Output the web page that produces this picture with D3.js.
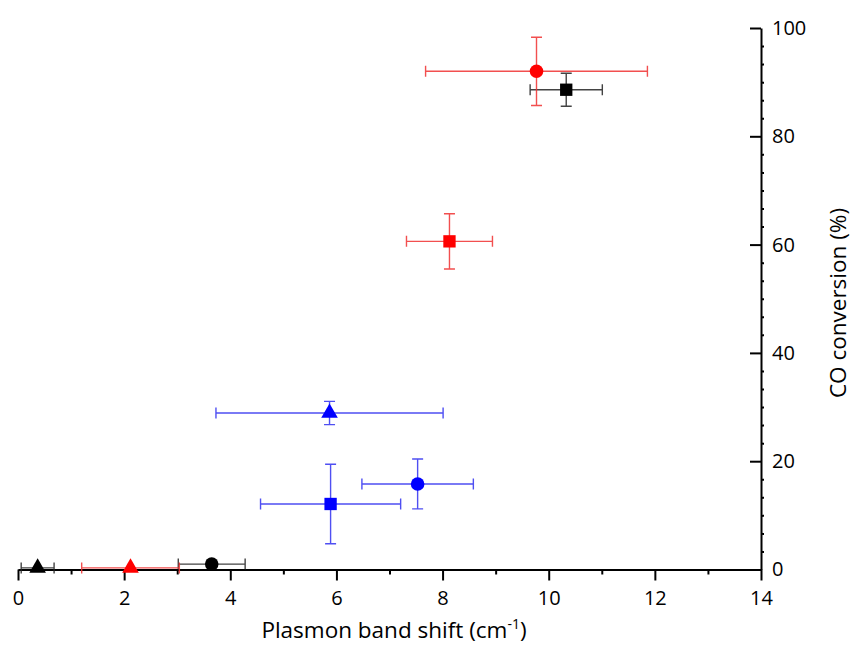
<!DOCTYPE html>
<html>
<head>
<meta charset="utf-8">
<script src="https://cdn.jsdelivr.net/npm/d3@7"></script>
<style>
	body { margin: 0; background: #fff; }
	svg text { font-family: "Open Sans", "Noto Sans", sans-serif; fill: #000; }
</style>
</head>
<body>
<div id="chart"></div>
<script>

///////////////////////////////////////////////////////////////////////////
//////////////////////////////// Data /////////////////////////////////////
///////////////////////////////////////////////////////////////////////////

//Series (colour groups) and sample types (marker shapes)
var seriesNames = ["black", "red", "blue"];
var sampleTypes = ["square", "circle", "triangle"];

//One entry per point, same order in every array
var pointSeries = ["black", "black", "black", "red", "red", "red", "blue", "blue", "blue"];
var pointSample = ["square", "circle", "triangle", "square", "circle", "triangle", "square", "circle", "triangle"];
var bandShift    = [10.33, 3.65, 0.37, 8.13, 9.77, 2.12, 5.89, 7.53, 5.87];
var bandShiftErr = [0.68, 0.63, 0.31, 0.81, 2.09, 0.92, 1.32, 1.05, 2.14];
var conversion    = [88.6, 1.0, 0.3, 60.6, 92.0, 0.3, 12.1, 15.8, 28.9];
var conversionErr = [3.05, 0, 0, 5.1, 6.3, 0, 7.35, 4.6, 2.15];

var xTicks = [0, 2, 4, 6, 8, 10, 12, 14];
var yTicks = [0, 20, 40, 60, 80, 100];

///////////////////////////////////////////////////////////////////////////
//////////////////// Set up and initiate svg container ////////////////////
///////////////////////////////////////////////////////////////////////////

var margin = { top: 28, right: 93, bottom: 90, left: 18 };

var svg = d3.select("#chart").append("svg")
	.attr("width", 854)
	.attr("height", 660)
	.append("g")
	.attr("transform", "translate(" + margin.left + "," + margin.top + ")");

var x = d3.scaleLinear().domain([0, 14]).range([0, 743]);
var y = d3.scaleLinear().domain([0, 100]).range([541.5, 0]);

var colour = d3.scaleOrdinal().domain(seriesNames).range(["#000000", "#ff0000", "#0000ff"]);
var errColour = d3.scaleOrdinal().domain(seriesNames).range(["#222222", "#f03030", "#3030f0"]);
var shape = d3.scaleOrdinal().domain(sampleTypes).range([d3.symbolSquare, d3.symbolCircle, d3.symbolTriangle]);
var shapeSize = d3.scaleOrdinal().domain(sampleTypes).range([152, 145, 120]);

var points = bandShift.map(function(d, i) {
	return {
		series: pointSeries[i], sample: pointSample[i],
		x: d, xe: bandShiftErr[i], y: conversion[i], ye: conversionErr[i]
	};
});

///////////////////////////////////////////////////////////////////////////
/////////////////////////////// Axes //////////////////////////////////////
///////////////////////////////////////////////////////////////////////////

//x axis: minor ticks at odd values
var xAxisMinor = d3.axisBottom(x).tickValues(d3.range(1, 14, 2)).tickSize(5).tickFormat("");
var xAxis = d3.axisBottom(x).tickValues(xTicks).tickSize(11).tickSizeOuter(0).tickPadding(10);

var gxMinor = svg.append("g").attr("transform", "translate(0," + y(0) + ")").call(xAxisMinor);
gxMinor.select(".domain").remove();
var gx = svg.append("g").attr("transform", "translate(0," + y(0) + ")").call(xAxis);

//y axis on the right: major ticks inward, minor ticks outward
var yMinorVals = d3.range(0, 100.01, 20 / 6).filter(function(d) { return Math.abs(d / 20 - Math.round(d / 20)) > 0.01; });
var yAxisMinor = d3.axisRight(y).tickValues(yMinorVals).tickSize(3).tickFormat("");
var yAxis = d3.axisRight(y).tickValues(yTicks).tickSizeInner(-11).tickSizeOuter(0).tickPadding(12);

var gyMinor = svg.append("g").attr("transform", "translate(" + x(14) + ",0)").call(yAxisMinor);
gyMinor.select(".domain").remove();
var gy = svg.append("g").attr("transform", "translate(" + x(14) + ",0)").call(yAxis);
gy.selectAll("text").attr("x", 11);

svg.selectAll(".domain").attr("stroke-width", 2).attr("stroke", "#000");
svg.selectAll(".tick line").attr("stroke-width", 2).attr("stroke", "#000");
svg.selectAll(".tick text").style("font-size", "20px");

//Axis titles
var xTitle = svg.append("text")
	.attr("x", 376)
	.attr("y", 610)
	.attr("text-anchor", "middle")
	.style("font-size", "22.5px");
xTitle.append("tspan").text("Plasmon band shift (cm");
xTitle.append("tspan").attr("dy", -9).style("font-size", "14px").text("-1");
xTitle.append("tspan").attr("dy", 9).text(")");

svg.append("text")
	.attr("transform", "translate(828," + 275 + ") rotate(-90)")
	.attr("text-anchor", "middle")
	.style("font-size", "22.5px")
	.text("CO conversion (%)");

///////////////////////////////////////////////////////////////////////////
//////////////////////////// Error bars ///////////////////////////////////
///////////////////////////////////////////////////////////////////////////

var cap = 5.5;
var err = svg.append("g").attr("class", "errorBars")
	.selectAll("g")
	.data(points)
	.enter().append("g")
	.attr("stroke", function(d) { return errColour(d.series); })
	.attr("stroke-width", 1.4)
	.attr("stroke-opacity", 0.85)
	.attr("fill", "none");

//horizontal
err.append("path")
	.attr("d", function(d) {
		var x0 = x(d.x - d.xe), x1 = x(d.x + d.xe), yy = y(d.y);
		return "M" + x0 + "," + yy + "H" + x1 +
			"M" + x0 + "," + (yy - cap) + "V" + (yy + cap) +
			"M" + x1 + "," + (yy - cap) + "V" + (yy + cap);
	});

//vertical
err.filter(function(d) { return d.ye > 0; }).append("path")
	.attr("d", function(d) {
		var y0 = y(d.y - d.ye), y1 = y(d.y + d.ye), xx = x(d.x);
		return "M" + xx + "," + y0 + "V" + y1 +
			"M" + (xx - cap) + "," + y0 + "H" + (xx + cap) +
			"M" + (xx - cap) + "," + y1 + "H" + (xx + cap);
	});

///////////////////////////////////////////////////////////////////////////
////////////////////////////// Markers ////////////////////////////////////
///////////////////////////////////////////////////////////////////////////

svg.append("g").attr("class", "markers")
	.selectAll("path")
	.data(points)
	.enter().append("path")
	.attr("transform", function(d) { return "translate(" + x(d.x) + "," + y(d.y) + ")"; })
	.attr("d", function(d) { return d3.symbol().type(shape(d.sample)).size(shapeSize(d.sample))(); })
	.style("fill", function(d) { return colour(d.series); });

</script>
</body>
</html>
